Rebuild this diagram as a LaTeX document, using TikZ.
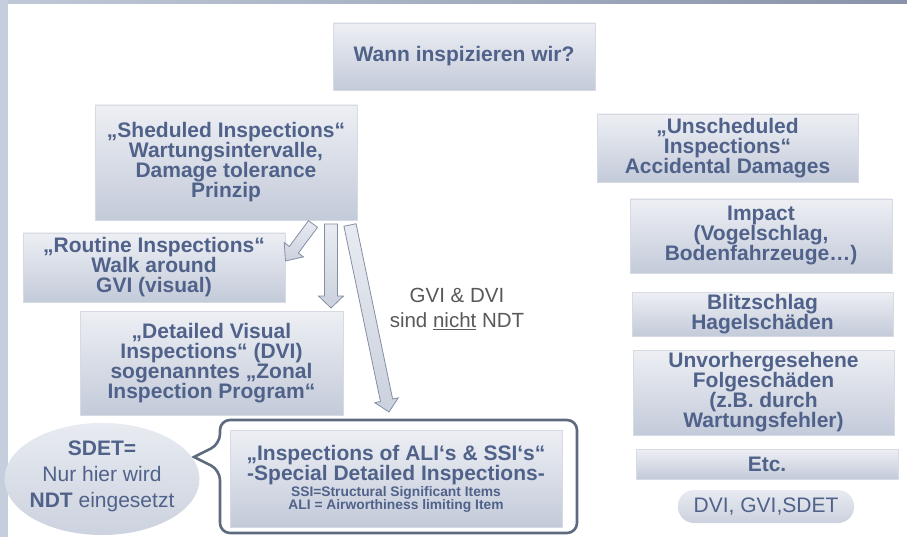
\documentclass[tikz,border=0pt]{standalone}
\usepackage{fontspec}
\setmainfont{Liberation Sans}
\usetikzlibrary{calc,shapes.geometric}
\definecolor{txt}{HTML}{50628A}
\definecolor{boxtop}{HTML}{EDEFF4}
\definecolor{boxbot}{HTML}{C3CAD9}
\definecolor{boxline}{HTML}{D5DAE3}
\definecolor{arrline}{HTML}{858FA3}
\definecolor{arrtop}{HTML}{E8EBF1}
\definecolor{arrbot}{HTML}{CBD1DE}
\definecolor{greytxt}{HTML}{595959}
\definecolor{callline}{HTML}{5E6A7E}
\definecolor{barL}{HTML}{C5CEDC}
\definecolor{bandL}{HTML}{BFC9D8}
\definecolor{bandM}{HTML}{E6E9EF}
\definecolor{bandR}{HTML}{8893A9}
\newcommand\smalltxt{\bfseries\fontsize{13.8}{13}\selectfont}
\tikzset{
  box/.style={draw=boxline, line width=0.6pt, top color=boxtop, bottom color=boxbot,
    inner sep=0pt, text=txt, font=\bfseries\fontsize{21}{20}\selectfont, align=center},
  barrow/.style={draw=arrline, line width=0.8pt, top color=arrtop, bottom color=arrbot, line join=miter},
  callout/.style={draw=callline, line width=2.6pt},
}
\newcommand\blockarrow[5]{%
  \coordinate (#1h) at ($(#2)!#5!(#1)$);
  \draw[barrow] ($(#1)!#3!90:(#2)$) -- ($(#1h)!#3!90:(#2)$) -- ($(#1h)!#4!90:(#2)$) -- (#2)
    -- ($(#1h)!#4!-90:(#2)$) -- ($(#1h)!#3!-90:(#2)$) -- ($(#1)!#3!-90:(#2)$) -- cycle;}
\begin{document}
\begin{tikzpicture}[x=1pt,y=-1pt]
\useasboundingbox (0,0) rectangle (907,537);
\fill[white] (0,0) rectangle (907,537);
\shade[left color=bandL, middle color=bandM, right color=bandR] (0,0) rectangle (907,3.5);
\fill[barL] (0,0) rectangle (7.5,537);

\node[box, minimum width=262pt, minimum height=67pt] (wann) at (464,56.5) {Wann inspizieren wir?};
\node[box, minimum width=262pt, minimum height=115pt] (sched) at (226,162.5)
  {„Sheduled Inspections“\\Wartungsintervalle,\\Damage tolerance\\Prinzip};
\node[box, minimum width=261pt, minimum height=68pt] (unsched) at (727.5,148)
  {„Unscheduled\\Inspections“\\Accidental Damages};
\node[box, minimum width=262pt, minimum height=74pt] (impact) at (761,236)
  {Impact\\(Vogelschlag,\\Bodenfahrzeuge…)};
\node[box, minimum width=261pt, minimum height=44pt] (blitz) at (762.5,314)
  {Blitzschlag\\Hagelschäden};
\node[box, minimum width=261pt, minimum height=85pt] (unvor) at (763.5,392.5)
  {Unvorhergesehene\\Folgeschäden\\(z.B. durch\\Wartungsfehler)};
\node[box, minimum width=262pt, minimum height=30pt] (etc) at (767,464) {Etc.};
\node[box, draw=none, rounded corners=16pt, minimum width=176pt, minimum height=33pt,
  font=\fontsize{21}{20}\selectfont, top color=arrtop, bottom color=arrbot] (pill) at (766,506.5) {DVI, GVI,SDET};
\node[box, minimum width=262pt, minimum height=69pt] (routine) at (154,267.5)
  {„Routine Inspections“\\Walk around\\GVI (visual)};
\node[box, minimum width=263pt, minimum height=104pt] (dvi) at (211.5,363)
  {„Detailed Visual\\Inspections“ (DVI)\\sogenanntes „Zonal\\Inspection Program“};

% callout
\draw[callout] (194,457) [rounded corners=10pt] -- (220,444) -- (220,420) -- (577,420) -- (577,533)
  -- (220,533) -- (220,470) [sharp corners] -- cycle;
\node[box, minimum width=332pt, minimum height=97pt] (ali) at (396,478.5)
  {„Inspections of ALI‘s \& SSI‘s“\\[0pt]-Special Detailed Inspections-\\[-4pt]
   \smalltxt SSI=Structural Significant Items\\[-7pt]\smalltxt ALI = Airworthiness limiting Item};

% ellipse
\node[ellipse, draw=none, top color=arrtop, bottom color=boxbot!85, minimum width=195pt, minimum height=112pt, inner sep=0pt] (sdet) at (102,479) {};
\node[text=txt, font=\fontsize{21}{26}\selectfont, align=center] (sdettxt) at (102,476)
  {\textbf{SDET=}\\Nur hier wird\\\textbf{NDT} eingesetzt};

% grey note
\node[text=greytxt, font=\fontsize{20.5}{25}\selectfont, align=center] (note) at (457,309)
  {GVI \& DVI\\sind \underline{nicht} NDT};

% block arrows
\coordinate (a1s) at (313,224); \coordinate (a1e) at (285.5,261);
\coordinate (a2s) at (331,224); \coordinate (a2e) at (331,308);
\coordinate (a3s) at (350,225); \coordinate (a3e) at (389,412);
\blockarrow{a1s}{a1e}{5.6pt}{12pt}{14pt}
\blockarrow{a2s}{a2e}{6.5pt}{12.5pt}{12pt}
\blockarrow{a3s}{a3e}{6.2pt}{12pt}{12pt}
\end{tikzpicture}
\end{document}
